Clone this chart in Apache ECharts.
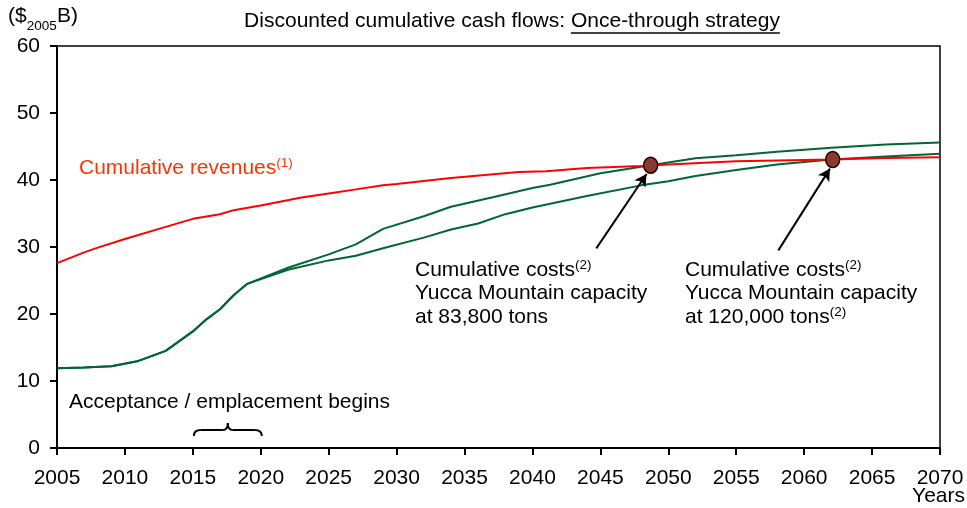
<!DOCTYPE html>
<html><head><meta charset="utf-8">
<script src="https://cdn.jsdelivr.net/npm/echarts@6/dist/echarts.min.js"></script>
<style>html,body{margin:0;padding:0;background:#fff}#c{width:967px;height:508px}</style>
</head><body><div id="c"></div>
<script>
var FONT = '"Liberation Sans", Arial, sans-serif';
var FS = 21;
// Cumulative revenues
var revYears = [2005,2007,2008,2010,2013,2015,2017,2018,2020,2023,2025,2027,2029,2030,2034,2039,2041,2044,2048,2050,2055,2062,2066,2070];
var revValues = [27.6,29.2,29.9,31.2,33.0,34.2,34.9,35.5,36.2,37.4,38.0,38.6,39.2,39.4,40.3,41.2,41.3,41.8,42.1,42.3,42.8,43.05,43.3,43.4];
// Cumulative costs, 83,800 tons
var c1Years = [2005,2007,2009,2011,2013,2015,2016,2017,2018,2019,2022,2025,2027,2029,2032,2034,2037,2040,2041.3,2045,2048.7,2052,2055,2058,2062,2066,2070];
var c1Values = [11.9,12.0,12.2,13.0,14.5,17.4,19.2,20.7,22.8,24.5,26.9,28.9,30.4,32.7,34.6,36.0,37.4,38.8,39.3,41.0,42.2,43.25,43.7,44.2,44.8,45.3,45.6];
// Cumulative costs, 120,000 tons
var c2Years = [2005,2007,2009,2011,2013,2015,2016,2017,2018,2019,2022,2025,2027,2029,2032,2034,2036,2038,2040,2044,2048,2050,2052,2055,2058,2062,2066,2070];
var c2Values = [11.9,12.0,12.2,13.0,14.5,17.4,19.2,20.7,22.8,24.5,26.6,28.0,28.7,29.8,31.4,32.6,33.5,34.9,35.9,37.6,39.2,39.8,40.6,41.5,42.3,43.05,43.5,43.9];
// Capacity reached points
var capYears = [2048.7, 2062.1];
var capValues = [42.2, 43.05];
// Arrow annotations [tailYear, tailValue, headYear, headValue]
var arrow1 = [2044.7, 29.8, 2048.4, 40.9];
var arrow2 = [2058.1, 29.5, 2061.9, 41.7];
var xTicks = {min: 2005, max: 2070, interval: 5};
var yTicks = {min: 0, max: 60, interval: 10};

function zip(a, b) { return a.map(function (v, i) { return [v, b[i]]; }); }

var chart = echarts.init(document.getElementById('c'), null, {renderer: 'canvas'});

function annText(x, y, txt) {
  return {type: 'text', x: x, y: y, silent: true,
    style: {text: txt, fontSize: FS, fontFamily: FONT, fill: '#000', lineHeight: 23.5,
      rich: {sup: {fontSize: 13.5, fontFamily: FONT, verticalAlign: 'top', lineHeight: 13, fill: '#000'}}}};
}

chart.setOption({
  animation: false,
  backgroundColor: '#fff',
  grid: {left: 57, right: 27, top: 46, bottom: 60, show: true, borderColor: '#000', borderWidth: 1.5, backgroundColor: 'transparent'},
  xAxis: {type: 'value', min: xTicks.min, max: xTicks.max, interval: xTicks.interval,
    axisLine: {show: true, onZero: false, lineStyle: {color: '#000', width: 2}},
    axisTick: {show: true, length: 7, lineStyle: {color: '#000', width: 2}},
    axisLabel: {fontSize: FS, fontFamily: FONT, color: '#000', margin: 20, formatter: function (v) { return String(v); }},
    splitLine: {show: false}},
  yAxis: {type: 'value', min: yTicks.min, max: yTicks.max, interval: yTicks.interval,
    axisLine: {show: true, lineStyle: {color: '#000', width: 2}},
    axisTick: {show: true, length: 7, lineStyle: {color: '#000', width: 2}},
    axisLabel: {fontSize: FS, fontFamily: FONT, color: '#000', margin: 17},
    splitLine: {show: false}},
  series: [
    {name: 'Revenues', type: 'line', data: zip(revYears, revValues), symbol: 'none', smooth: false,
      lineStyle: {color: '#FF0000', width: 2}, z: 3},
    {name: 'Costs 83800', type: 'line', data: zip(c1Years, c1Values), symbol: 'none',
      lineStyle: {color: '#006633', width: 2}, z: 2},
    {name: 'Costs 120000', type: 'line', data: zip(c2Years, c2Values), symbol: 'none',
      lineStyle: {color: '#006633', width: 2}, z: 2},
    {name: 'Capacity', type: 'scatter', data: zip(capYears, capValues), symbol: 'circle', symbolSize: [14, 16],
      itemStyle: {color: '#8B3A2E', borderColor: '#1a0000', borderWidth: 1.5, opacity: 1}, z: 5,
      markLine: {silent: true, symbol: ['none', 'arrow'], symbolSize: [10, 12], animation: false,
        lineStyle: {color: '#000', width: 2, type: 'solid'}, label: {show: false},
        data: [
          [{coord: [arrow1[0], arrow1[1]]}, {coord: [arrow1[2], arrow1[3]]}],
          [{coord: [arrow2[0], arrow2[1]]}, {coord: [arrow2[2], arrow2[3]]}]
        ]}}
  ]
});

// Title with underline
var cv = document.createElement('canvas').getContext('2d');
cv.font = FS + 'px ' + FONT;
var t1 = 'Discounted cumulative cash flows: ';
var t2 = 'Once-through strategy';
var w1 = cv.measureText(t1).width, w2 = cv.measureText(t2).width;
var tx = 512 - (w1 + w2) / 2;
var wp = cv.measureText('($').width;

var p15 = chart.convertToPixel({gridIndex: 0}, [2015, 0]);
var p20 = chart.convertToPixel({gridIndex: 0}, [2020, 0]);
var x0 = p15[0] + 1, x1 = p20[0] + 1, xm = (x0 + x1) / 2, y0 = 430, y1 = 436, yp = 423;
var bs = {stroke: '#000', lineWidth: 2, fill: null};
function bz(ax, ay, cx, cy, bx, by) {
  return {type: 'bezierCurve', silent: true, shape: {x1: ax, y1: ay, cpx1: cx, cpy1: cy, x2: bx, y2: by}, style: bs};
}
function ln(ax, ay, bx, by) {
  return {type: 'line', silent: true, shape: {x1: ax, y1: ay, x2: bx, y2: by}, style: bs};
}

chart.setOption({
  graphic: [
    {type: 'text', x: tx, y: 11, silent: true, style: {text: t1, fontSize: FS, fontFamily: FONT, fill: '#000'}},
    {type: 'text', x: tx + w1, y: 11, silent: true, style: {text: t2, fontSize: FS, fontFamily: FONT, fill: '#000'}},
    {type: 'line', silent: true, shape: {x1: tx + w1, y1: 33, x2: tx + w1 + w2, y2: 33}, style: {stroke: '#000', lineWidth: 1.5}},
    {type: 'text', x: 8, y: 6, silent: true, style: {text: '($', fontSize: FS, fontFamily: FONT, fill: '#000'}},
    {type: 'text', x: 8 + wp, y: 19, silent: true, style: {text: '2005', fontSize: 13.5, fontFamily: FONT, fill: '#000'}},
    {type: 'text', x: 57, y: 6, silent: true, style: {text: 'B)', fontSize: FS, fontFamily: FONT, fill: '#000'}},
    {type: 'text', x: 79, y: 156, silent: true,
      style: {text: 'Cumulative revenues{sup|(1)}', fontSize: FS, fontFamily: FONT, fill: '#FF3300', lineHeight: 23.5,
        rich: {sup: {fontSize: 13.5, fontFamily: FONT, verticalAlign: 'top', lineHeight: 13, fill: '#FF3300'}}}},
    annText(415, 258, 'Cumulative costs{sup|(2)}\nYucca Mountain capacity\nat 83,800 tons'),
    annText(685, 258, 'Cumulative costs{sup|(2)}\nYucca Mountain capacity\nat 120,000 tons{sup|(2)}'),
    {type: 'text', x: 69, y: 392, silent: true, style: {text: 'Acceptance / emplacement begins', fontSize: FS, fontFamily: FONT, fill: '#000'}},
    bz(x0, y1, x0, y0, x0 + 7, y0),
    ln(x0 + 7, y0, xm - 5, y0),
    bz(xm - 5, y0, xm, y0, xm, yp),
    bz(xm, yp, xm, y0, xm + 5, y0),
    ln(xm + 5, y0, x1 - 7, y0),
    bz(x1 - 7, y0, x1, y0, x1, y1),
    {type: 'text', x: 965, y: 486, silent: true, style: {text: 'Years', fontSize: FS, fontFamily: FONT, fill: '#000', align: 'right'}}
  ]
});
</script></body></html>
